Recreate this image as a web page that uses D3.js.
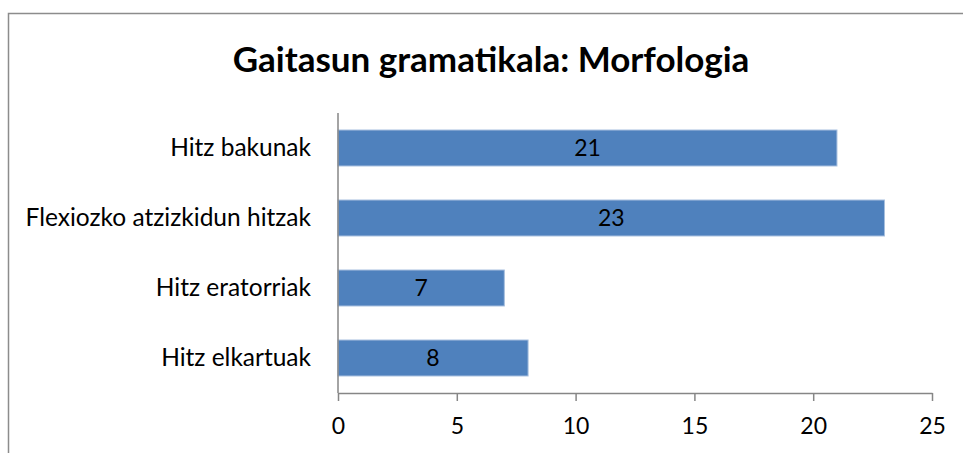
<!DOCTYPE html>
<html>
<head>
<meta charset="utf-8">
<script src="https://cdn.jsdelivr.net/npm/d3@7"></script>
<style>
    body { margin: 0; background: #fff; }
    svg { display: block; font-family: Lato, "Open Sans", sans-serif; }
</style>
</head>
<body>
<svg id="chart" width="963" height="453"></svg>
<script>
// chart data
const categories = ['Hitz bakunak', 'Flexiozko atzizkidun hitzak', 'Hitz eratorriak', 'Hitz elkartuak'];
const values = [21, 23, 7, 8];
const xTicks = [0, 5, 10, 15, 20, 25];
const TITLE = 'Gaitasun gramatikala: Morfologia';

const MARGIN = { top: 113, left: 338 };
const BAR_COLOR = '#4F81BD';
const AXIS_COLOR = '#868686';
const FONT = 'Lato, "Open Sans", sans-serif';

const svg = d3.select('#chart');

// outer chart frame (runs off the bottom/right edge)
svg.append('rect')
    .attr('x', 8.5).attr('y', 13.5)
    .attr('width', 1000).attr('height', 500)
    .attr('fill', 'none')
    .attr('stroke', '#8c8c8c')
    .attr('stroke-width', 1.5);

svg.append('text')
    .attr('x', 491)
    .attr('y', 72)
    .attr('text-anchor', 'middle')
    .style('font-size', '35px')
    .style('font-weight', '700')
    .attr('fill', '#000')
    .text(TITLE);

const plotW = 594;
const plotH = 280;

const x = d3.scaleLinear().domain([0, 25]).range([0, plotW]);
const y = d3.scaleBand().domain(categories).range([0, plotH]).paddingInner(0.486).paddingOuter(0.243);

const g = svg.append('g').attr('transform', `translate(${MARGIN.left},${MARGIN.top})`);

g.selectAll('.bar')
    .data(categories)
    .enter().append('rect')
    .attr('class', 'bar')
    .attr('x', 0)
    .attr('y', d => y(d))
    .attr('width', (d, i) => x(values[i]))
    .attr('height', y.bandwidth())
    .attr('fill', BAR_COLOR)
    .attr('stroke', '#a7bfde')
    .attr('stroke-width', 1);

g.selectAll('.val')
    .data(categories)
    .enter().append('text')
    .attr('class', 'val')
    .attr('x', (d, i) => x(values[i]) / 2)
    .attr('y', d => y(d) + y.bandwidth() / 2)
    .attr('dy', '0.36em')
    .attr('text-anchor', 'middle')
    .style('font-size', '23px')
    .attr('fill', '#000')
    .text((d, i) => values[i]);

// y axis
const yAxis = g.append('g').call(d3.axisLeft(y).tickSize(0).tickPadding(27));
yAxis.select('.domain').attr('stroke', AXIS_COLOR).attr('stroke-width', 1.5).attr('d', `M0,0V${plotH}`);
yAxis.selectAll('text').style('font-size', '24.5px').attr('fill', '#000').style('font-family', FONT);

// x axis
const xAxis = g.append('g')
    .attr('transform', `translate(0,${plotH})`)
    .call(d3.axisBottom(x).tickValues(xTicks).tickSize(8).tickSizeOuter(0).tickPadding(17));
xAxis.select('.domain').attr('stroke', AXIS_COLOR).attr('stroke-width', 1.5);
xAxis.selectAll('.tick line').attr('stroke', AXIS_COLOR).attr('stroke-width', 1.5);
xAxis.selectAll('text').style('font-size', '23px').attr('fill', '#000').style('font-family', FONT);
</script>
</body>
</html>
